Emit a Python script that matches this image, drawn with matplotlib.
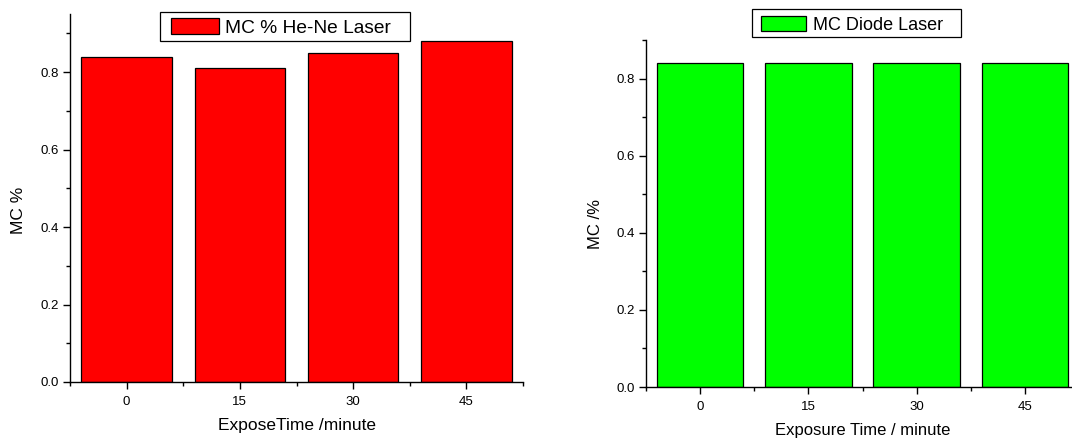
import matplotlib
matplotlib.use("Agg")
import matplotlib.pyplot as plt
from matplotlib.ticker import MultipleLocator, FixedLocator
from matplotlib.patches import Patch, Rectangle

plt.rcParams['font.family'] = ['Liberation Sans', 'DejaVu Sans']

times = [0, 15, 30, 45]
tick_labels = ['0', '15', '30', '45']
mc_hene = [0.84, 0.81, 0.85, 0.88]
mc_diode = [0.84, 0.84, 0.84, 0.84]

W, H = 1072, 441
fig = plt.figure(figsize=(W / 100, H / 100), dpi=100)

def px_axes(x0, y0, x1, y1):
    return fig.add_axes([x0 / W, 1 - y1 / H, (x1 - x0) / W, (y1 - y0) / H])

def style(ax, ymax, xlabel, ylabel, lsize, ylab_xy):
    ax.set_xlim(-7.5, 52.5)
    ax.set_ylim(0, ymax)
    for s in ['top', 'right']:
        ax.spines[s].set_visible(False)
    for s in ['left', 'bottom']:
        ax.spines[s].set_linewidth(1.0)
    ax.xaxis.set_major_locator(FixedLocator(times))
    ax.set_xticklabels(tick_labels)
    ax.xaxis.set_minor_locator(FixedLocator([-7.5, 7.5, 22.5, 37.5, 52.5]))
    ax.yaxis.set_major_locator(MultipleLocator(0.2))
    ax.yaxis.set_minor_locator(MultipleLocator(0.1))
    ax.yaxis.set_major_formatter(matplotlib.ticker.FormatStrFormatter('%.1f'))
    ax.tick_params(which='major', length=5, width=1, labelsize=9.5, direction='out', pad=3)
    ax.tick_params(which='minor', length=3, width=1, direction='out')
    ax.tick_params(axis='x', which='major', pad=5)
    ax.set_xlabel(xlabel, fontsize=lsize, labelpad=7)
    ax.set_ylabel(ylabel, fontsize=lsize)
    ax.yaxis.set_label_coords(*ylab_xy)

def add_legend(ax, color, label, fs, anchor, box_px):
    x0, y0, x1, y1 = box_px
    ax.add_patch(Rectangle((x0 / W, 1 - y1 / H), (x1 - x0) / W, (y1 - y0) / H,
                           transform=fig.transFigure, facecolor='white',
                           edgecolor='black', linewidth=0.9, zorder=4, clip_on=False))
    leg = ax.legend(handles=[Patch(facecolor=color, edgecolor='black', linewidth=0.9)],
                    labels=[label], loc='upper left', bbox_to_anchor=anchor,
                    fontsize=fs, frameon=False,
                    handlelength=2.5, handleheight=0.9, borderpad=0.35,
                    handletextpad=0.35, borderaxespad=0)
    leg.set_zorder(6)
    return leg

ax1 = px_axes(70, 14, 523, 382)
ax1.bar(times, mc_hene, width=12, color='#FF0000', edgecolor='black', linewidth=0.9)
style(ax1, 0.95, 'ExposeTime /minute', 'MC %', 12.5, (-0.097, 0.467))
add_legend(ax1, '#FF0000', 'MC % He-Ne Laser', 13.8,
           ((164 - 70) / 453, 1 + 2.5 / 368), (160, 11.7, 410, 41.3))

ax2 = px_axes(646, 40, 1079, 387)
ax2.bar(times, mc_diode, width=12, color='#00FF00', edgecolor='black', linewidth=0.9)
style(ax2, 0.9, 'Exposure Time / minute', 'MC /%', 12, (-0.099, 0.470))
add_legend(ax2, '#00FF00', 'MC Diode Laser', 13,
           ((755 - 646) / 433, 1 + 30.5 / 347), (752.3, 9.3, 960.7, 37.3))

fig.savefig('out.png', dpi=100)
